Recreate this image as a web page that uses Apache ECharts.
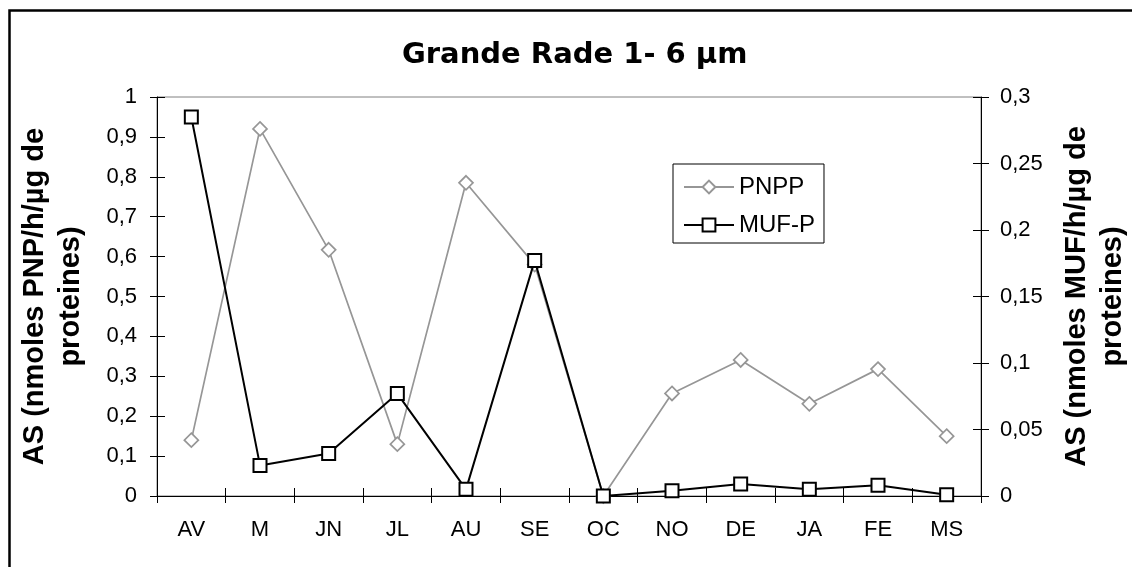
<!DOCTYPE html>
<html>
<head>
<meta charset="utf-8">
<script src="https://cdn.jsdelivr.net/npm/echarts@6/dist/echarts.min.js"></script>
<style>
html,body{margin:0;padding:0;background:#fff;}
#chart{width:1132px;height:567px;}
</style>
</head>
<body>
<div id="chart"></div>
<script>
const categories = ['AV', 'M', 'JN', 'JL', 'AU', 'SE', 'OC', 'NO', 'DE', 'JA', 'FE', 'MS'];
const pnppValues = [0.14, 0.92, 0.617, 0.13, 0.785, 0.58, 0, 0.257, 0.341, 0.231, 0.318, 0.15];
const mufValues = [0.285, 0.023, 0.032, 0.077, 0.005, 0.177, 0, 0.004, 0.009, 0.005, 0.008, 0.001];
const titleText = 'Grande Rade 1- 6 µm';
const leftAxisName = 'AS (nmoles PNP/h/µg de\nproteines)';
const rightAxisName = 'AS (nmoles MUF/h/µg de\nproteines)';
const seriesNames = ['PNPP', 'MUF-P'];

const FONT = '"Liberation Sans", Arial, sans-serif';
const fmt = v => String(v).replace('.', ',');

const chart = echarts.init(document.getElementById('chart'), null, {renderer: 'canvas'});

const yBase = (side, max, interval) => ({
  type: 'value', position: side, min: 0, max: max, interval: interval,
  splitLine: {show: false}
});

chart.setOption({
  animation: false,
  backgroundColor: '#fff',
  title: {
    text: titleText,
    left: 397, top: 36,
    textStyle: {fontFamily: '"DejaVu Sans", sans-serif', fontWeight: 'bold', fontSize: 29, lineHeight: 29, color: '#000'}
  },
  graphic: [{
    type: 'rect', silent: true, z: 100,
    shape: {x: 9.5, y: 10.5, width: 1200, height: 700},
    style: {fill: 'none', stroke: '#000', lineWidth: 2.5}
  }],
  legend: {
    orient: 'vertical', left: 673, top: 164,
    padding: [11, 9, 6, 10],
    itemGap: 14, itemWidth: 50, itemHeight: 16,
    borderColor: '#000', borderWidth: 1, backgroundColor: '#fff',
    textStyle: {fontFamily: FONT, fontSize: 24, lineHeight: 24, color: '#000'},
    data: seriesNames
  },
  grid: {left: 157, right: 151, top: 97, bottom: 71, containLabel: false, outerBoundsMode: 'none',
         show: true, borderColor: '#808080', borderWidth: 1},
  xAxis: [{
    type: 'category', data: categories, position: 'bottom',
    axisLine: {lineStyle: {color: '#000', width: 1.2}},
    axisTick: {show: true, inside: false, length: 7, lineStyle: {color: '#000'}},
    axisLabel: {fontFamily: FONT, fontSize: 22, color: '#000', margin: 23, lineHeight: 22}
  }, {
    type: 'category', data: categories, position: 'bottom',
    axisLine: {show: false},
    axisTick: {show: true, inside: true, length: 8, lineStyle: {color: '#000'}},
    axisLabel: {show: false}
  }],
  yAxis: [
    Object.assign(yBase('left', 1, 0.1), {
      name: leftAxisName, nameLocation: 'middle', nameRotate: 90, nameGap: 68,
      nameTextStyle: {fontFamily: FONT, fontWeight: 'bold', fontSize: 29, lineHeight: 36, color: '#000'},
      axisLine: {show: true, lineStyle: {color: '#000', width: 1}},
      axisTick: {show: true, inside: false, length: 7, lineStyle: {color: '#000'}},
      axisLabel: {fontFamily: FONT, fontSize: 22, color: '#000', margin: 20, formatter: fmt}
    }),
    Object.assign(yBase('right', 0.3, 0.05), {
      name: rightAxisName, nameLocation: 'middle', nameRotate: 90, nameGap: 78,
      nameTextStyle: {fontFamily: FONT, fontWeight: 'bold', fontSize: 29, lineHeight: 36, color: '#000'},
      axisLine: {show: true, lineStyle: {color: '#000', width: 1}},
      axisTick: {show: true, inside: false, length: 8, lineStyle: {color: '#000'}},
      axisLabel: {fontFamily: FONT, fontSize: 22, color: '#000', margin: 19, formatter: fmt}
    }),
    Object.assign(yBase('left', 1, 0.1), {
      axisLine: {show: false},
      axisTick: {show: true, inside: true, length: 8, lineStyle: {color: '#000'}},
      axisLabel: {show: false}
    }),
    Object.assign(yBase('right', 0.3, 0.05), {
      axisLine: {show: false},
      axisTick: {show: true, inside: true, length: 8, lineStyle: {color: '#000'}},
      axisLabel: {show: false}
    })
  ],
  series: [{
    name: seriesNames[0], type: 'line', xAxisIndex: 0, yAxisIndex: 0,
    data: pnppValues,
    symbol: 'diamond', symbolSize: 14, showAllSymbol: true,
    lineStyle: {color: '#969696', width: 1.7},
    itemStyle: {color: '#fff', borderColor: '#969696', borderWidth: 1.7},
    emphasis: {disabled: true}, z: 3
  }, {
    name: seriesNames[1], type: 'line', xAxisIndex: 0, yAxisIndex: 1,
    data: mufValues,
    symbol: 'rect', symbolSize: 13, showAllSymbol: true,
    lineStyle: {color: '#000', width: 2},
    itemStyle: {color: '#fff', borderColor: '#000', borderWidth: 2},
    emphasis: {disabled: true}, z: 4
  }]
});
</script>
</body>
</html>
